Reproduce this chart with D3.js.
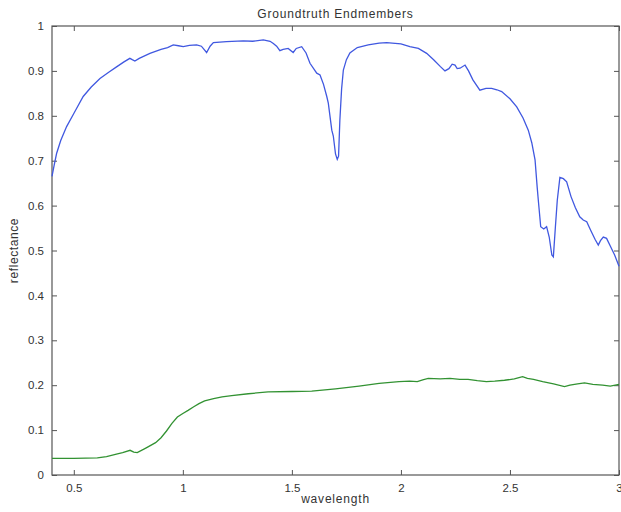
<!DOCTYPE html>
<html>
<head>
<meta charset="utf-8">
<script src="https://cdn.jsdelivr.net/npm/d3@7"></script>
<style>
  html, body { margin: 0; padding: 0; background: #fff; }
  svg text { font-family: "Liberation Sans", Arial, sans-serif; fill: #333; }
</style>
</head>
<body>
<div id="chart"></div>
<script>
// Blue endmember (wavelength, reflectance)
const blueWl = [0.40, 0.41, 0.421, 0.44, 0.467, 0.50, 0.543, 0.58, 0.62, 0.66, 0.696, 0.73, 0.757, 0.768, 0.78, 0.80,
  0.849, 0.90, 0.93, 0.956, 0.98, 1.002, 1.03, 1.063, 1.085, 1.109, 1.125, 1.14, 1.20, 1.277, 1.32, 1.369, 1.40, 1.415,
  1.43, 1.445, 1.46, 1.483, 1.506, 1.52, 1.545, 1.565, 1.583, 1.614, 1.629, 1.645, 1.66, 1.667, 1.683, 1.69, 1.70, 1.708,
  1.714, 1.72, 1.728, 1.736, 1.75, 1.766, 1.80, 1.85, 1.90, 1.935, 1.96, 2.00, 2.041, 2.08, 2.118, 2.15, 2.18, 2.202,
  2.22, 2.235, 2.248, 2.258, 2.271, 2.294, 2.31, 2.33, 2.362, 2.39, 2.416, 2.44, 2.462, 2.50, 2.531, 2.56, 2.584, 2.60,
  2.615, 2.625, 2.63, 2.641, 2.655, 2.668, 2.68, 2.692, 2.699, 2.708, 2.717, 2.729, 2.745, 2.76, 2.78, 2.80, 2.82, 2.836,
  2.852, 2.87, 2.89, 2.905, 2.915, 2.928, 2.943, 2.96, 2.98, 3.00];
const blueR = [0.665, 0.69, 0.716, 0.745, 0.776, 0.805, 0.843, 0.864, 0.883, 0.897, 0.909, 0.92, 0.928, 0.925, 0.922, 0.928,
  0.939, 0.948, 0.952, 0.958, 0.956, 0.954, 0.957, 0.958, 0.955, 0.941, 0.955, 0.963, 0.965, 0.967, 0.966, 0.969, 0.966, 0.961,
  0.955, 0.945, 0.948, 0.950, 0.941, 0.950, 0.954, 0.94, 0.917, 0.895, 0.891, 0.87, 0.843, 0.828, 0.768, 0.755, 0.715, 0.703,
  0.71, 0.79, 0.86, 0.902, 0.925, 0.94, 0.952, 0.958, 0.962, 0.963, 0.962, 0.96, 0.954, 0.95, 0.939, 0.925, 0.91, 0.90,
  0.905, 0.915, 0.913, 0.905, 0.906, 0.913, 0.90, 0.88, 0.857, 0.861, 0.861, 0.858, 0.854, 0.838, 0.82, 0.795, 0.768, 0.74,
  0.702, 0.64, 0.612, 0.553, 0.548, 0.553, 0.53, 0.49, 0.486, 0.55, 0.612, 0.663, 0.66, 0.653, 0.62, 0.595, 0.575, 0.568,
  0.564, 0.545, 0.525, 0.512, 0.522, 0.53, 0.527, 0.51, 0.49, 0.465];

// Green endmember
const greenWl = [0.40, 0.50, 0.608, 0.65, 0.70, 0.724, 0.758, 0.775, 0.791, 0.83, 0.875, 0.90, 0.925, 0.95, 0.975, 1.00,
  1.024, 1.05, 1.074, 1.10, 1.141, 1.18, 1.224, 1.30, 1.391, 1.50, 1.591, 1.70, 1.808, 1.90, 1.991, 2.04, 2.075, 2.10,
  2.125, 2.18, 2.225, 2.27, 2.308, 2.35, 2.392, 2.43, 2.475, 2.52, 2.558, 2.58, 2.608, 2.65, 2.70, 2.75, 2.775, 2.81,
  2.842, 2.88, 2.925, 2.96, 3.00];
const greenR = [0.037, 0.037, 0.038, 0.041, 0.047, 0.050, 0.055, 0.051, 0.050, 0.060, 0.072, 0.083, 0.098, 0.115, 0.129, 0.137,
  0.144, 0.152, 0.159, 0.165, 0.170, 0.174, 0.177, 0.181, 0.185, 0.186, 0.187, 0.192, 0.198, 0.204, 0.208, 0.209, 0.208, 0.212,
  0.215, 0.214, 0.215, 0.213, 0.213, 0.210, 0.208, 0.209, 0.211, 0.214, 0.219, 0.215, 0.213, 0.208, 0.203, 0.197, 0.200, 0.203,
  0.205, 0.202, 0.200, 0.198, 0.202];

const xTicks = [0.5, 1, 1.5, 2, 2.5, 3];
const yTicks = [0, 0.1, 0.2, 0.3, 0.4, 0.5, 0.6, 0.7, 0.8, 0.9, 1];

const width = 621, height = 512;
const margin = { top: 26, right: 2, bottom: 37, left: 52 };

const svg = d3.select('#chart').append('svg')
  .attr('width', width)
  .attr('height', height);

svg.append('rect').attr('width', width).attr('height', height).attr('fill', '#fff');

const x = d3.scaleLinear().domain([0.4, 3]).range([margin.left, width - margin.right]);
const y = d3.scaleLinear().domain([0, 1]).range([height - margin.bottom, margin.top]);

const axisColor = '#555';
const fmt = d => d3.format('')(d);

function styleAxis(g) {
  g.select('.domain').remove();
  g.selectAll('line').attr('stroke', axisColor);
  g.selectAll('text').attr('font-size', 11.5).attr('fill', '#333');
}

// bottom / top
svg.append('g')
  .attr('transform', `translate(0,${y(0)})`)
  .call(d3.axisBottom(x).tickValues(xTicks).tickSize(-5).tickPadding(9).tickFormat(fmt))
  .call(styleAxis);
svg.append('g')
  .attr('transform', `translate(0,${y(1)})`)
  .call(d3.axisTop(x).tickValues(xTicks).tickSize(-5).tickFormat(''))
  .call(styleAxis);

// left / right
svg.append('g')
  .attr('transform', `translate(${x(0.4)},0)`)
  .call(d3.axisLeft(y).tickValues(yTicks).tickSize(-5).tickPadding(8).tickFormat(fmt))
  .call(styleAxis);
svg.append('g')
  .attr('transform', `translate(${x(3)},0)`)
  .call(d3.axisRight(y).tickValues(yTicks).tickSize(-5).tickFormat(''))
  .call(styleAxis);

// box
svg.append('rect')
  .attr('x', x(0.4)).attr('y', y(1))
  .attr('width', x(3) - x(0.4)).attr('height', y(0) - y(1))
  .attr('fill', 'none').attr('stroke', axisColor).attr('stroke-width', 1.2);

const line = d3.line()
  .x(d => x(d[0]))
  .y(d => y(d[1]));

svg.append('path')
  .datum(blueWl.map((w, i) => [w, blueR[i]]))
  .attr('d', line)
  .attr('fill', 'none')
  .attr('stroke', '#4058e0')
  .attr('stroke-width', 1.3);

svg.append('path')
  .datum(greenWl.map((w, i) => [w, greenR[i]]))
  .attr('d', line)
  .attr('fill', 'none')
  .attr('stroke', '#329232')
  .attr('stroke-width', 1.3);

// labels
const cx = (x(0.4) + x(3)) / 2;
svg.append('text')
  .attr('x', cx).attr('y', 18)
  .attr('text-anchor', 'middle')
  .attr('font-size', 12)
  .attr('letter-spacing', 0.8)
  .text('Groundtruth Endmembers');

svg.append('text')
  .attr('x', cx).attr('y', 503)
  .attr('text-anchor', 'middle')
  .attr('font-size', 12)
  .attr('letter-spacing', 0.8)
  .text('wavelength');

svg.append('text')
  .attr('transform', `translate(18,${y(0.5)}) rotate(-90)`)
  .attr('text-anchor', 'middle')
  .attr('font-size', 12)
  .attr('letter-spacing', 0.6)
  .text('reflectance');
</script>
</body>
</html>
